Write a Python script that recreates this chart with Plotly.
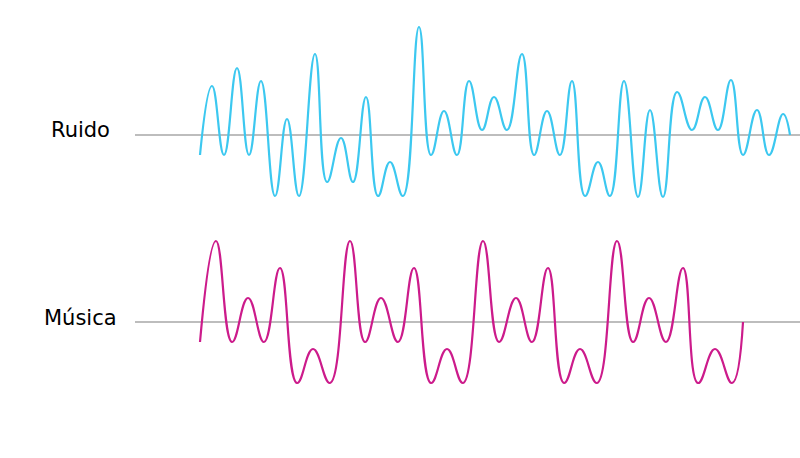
import plotly.graph_objects as go

# Waveform extrema (time units, amplitude relative to baseline)
ruido_t = [200, 212, 224, 237, 249, 261, 275, 287, 299, 315, 327, 341, 353, 366, 378, 390,
           403, 419, 431, 444, 457, 469, 482, 494, 507, 522, 534, 547, 560, 572, 585, 598,
           610, 624, 638, 650, 663, 677, 692, 705, 718, 731, 743, 757, 769, 783, 790]
ruido_a = [-20, 49, -20, 67, -20, 54, -61, 16, -61, 81, -47, -3, -47, 38, -61, -27,
           -61, 108, -20, 24, -20, 54, 5, 38, 5, 81, -20, 24, -20, 54, -61, -27,
           -61, 54, -62, 25, -62, 43, 5, 38, 5, 55, -20, 25, -20, 21, 0]

musica_t = [200, 216, 232, 248, 264, 280, 297, 313, 330, 350, 365, 381, 398, 414, 431, 447,
            463, 483, 499, 516, 532, 548, 564, 580, 597, 617, 633, 649, 666, 683, 698, 715,
            732, 743]
musica_a = [-20, 81, -20, 24, -20, 54, -61, -27, -61, 81, -20, 24, -20, 54, -61, -27,
            -61, 81, -20, 24, -20, 54, -61, -27, -61, 81, -20, 24, -20, 54, -61, -27,
            -61, 0]

labels = ["Ruido", "Música"]
baseline_t = [135, 800]

CYAN = "#3cc8f0"
MAGENTA = "#cc1b8b"
GRAY = "#bdbdbd"

fig = go.Figure()

# baselines
fig.add_trace(go.Scatter(x=baseline_t, y=[0, 0], mode="lines",
                         line=dict(color=GRAY, width=2), yaxis="y", hoverinfo="skip"))
fig.add_trace(go.Scatter(x=baseline_t, y=[0, 0], mode="lines",
                         line=dict(color=GRAY, width=2), yaxis="y2", hoverinfo="skip"))

# waves
fig.add_trace(go.Scatter(x=ruido_t, y=ruido_a, mode="lines",
                         line=dict(color=CYAN, width=2.2, shape="spline", smoothing=1.3),
                         yaxis="y", name=labels[0]))
fig.add_trace(go.Scatter(x=musica_t, y=musica_a, mode="lines",
                         line=dict(color=MAGENTA, width=2.2, shape="spline", smoothing=1.3),
                         yaxis="y2", name=labels[1]))

axis_common = dict(visible=False, showgrid=False, zeroline=False, fixedrange=True)

fig.update_layout(
    width=800, height=458,
    margin=dict(l=0, r=0, t=0, b=0),
    paper_bgcolor="white", plot_bgcolor="white",
    showlegend=False,
    xaxis=dict(range=[0, 800], **axis_common),
    yaxis=dict(domain=[0.5, 1.0], range=[-94, 135], **axis_common),
    yaxis2=dict(domain=[0.0, 0.5], range=[-136, 93], **axis_common),
    annotations=[
        dict(text=labels[0], x=80, y=5, xref="x", yref="y", showarrow=False,
             xanchor="center", yanchor="middle",
             font=dict(family="DejaVu Sans", size=21, color="#000000")),
        dict(text=labels[1], x=80, y=4, xref="x", yref="y2", showarrow=False,
             xanchor="center", yanchor="middle",
             font=dict(family="DejaVu Sans", size=21, color="#000000")),
    ],
)

fig.write_html("out.html")
